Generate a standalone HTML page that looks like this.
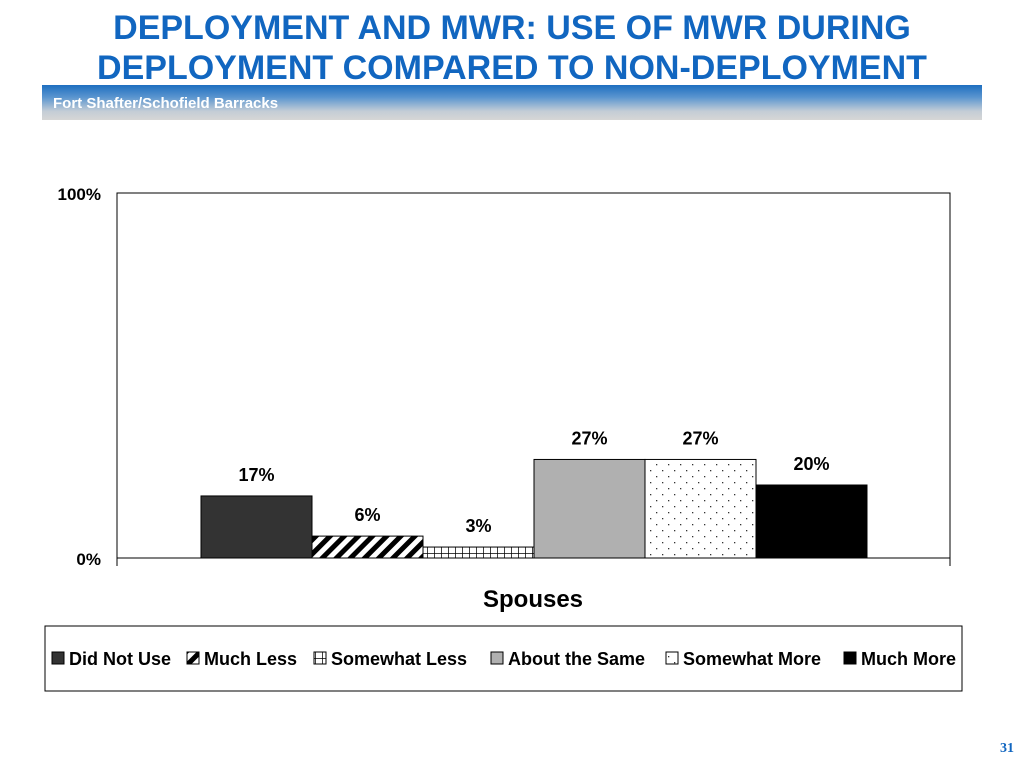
<!DOCTYPE html>
<html><head><meta charset="utf-8"><style>
body{margin:0;width:1024px;height:768px;background:#fff;overflow:hidden;font-family:"Liberation Sans",Arial,sans-serif;position:relative}
#title{position:absolute;left:0;top:8px;width:1024px;text-align:center;color:#1166c0;font-weight:bold;font-size:34px;line-height:40px}
#band{position:absolute;left:42px;top:85px;width:940px;height:35px;background:linear-gradient(#1e6fc0 0%,#5a95cf 35%,#c4cdd6 75%,#d6d6d6 100%)}
#band span{position:absolute;left:11px;top:10px;color:#fff;font-weight:bold;font-size:15px}
#pg{position:absolute;right:10px;top:741px;color:#1166c0;font-family:"Liberation Serif",serif;font-weight:bold;font-size:14px}
svg text{font-family:"Liberation Sans",Arial,sans-serif}
</style></head><body>
<div id="title">DEPLOYMENT AND MWR: USE OF MWR DURING<br>DEPLOYMENT COMPARED TO NON-DEPLOYMENT</div>
<div id="band"><span>Fort Shafter/Schofield Barracks</span></div>
<svg id="chart" width="1024" height="768" style="position:absolute;left:0;top:0">
<defs>
<pattern id="p-diag" width="10" height="10" patternUnits="userSpaceOnUse" patternTransform="rotate(45)"><rect width="10" height="10" fill="#fff"/><rect width="5" height="10" fill="#000"/></pattern>
<pattern id="p-grid" width="7" height="7" patternUnits="userSpaceOnUse"><rect width="7" height="7" fill="#fff"/><path d="M0 0H7M0 0V7" stroke="#000" stroke-width="1.5"/></pattern>
<pattern id="p-dots" width="12" height="12" patternUnits="userSpaceOnUse"><rect width="12" height="12" fill="#fff"/><rect x="2" y="2" width="1.3" height="1.3" fill="#333"/><rect x="8" y="8" width="1.3" height="1.3" fill="#333"/></pattern>
</defs>
<g id="g"></g>
</svg>
<div id="pg">31</div>
<script>
const categories=["Did Not Use","Much Less","Somewhat Less","About the Same","Somewhat More","Much More"];
const values=[17,6,3,27,27,20];
const yTicks=[0,100];
const fills=["#333333","url(#p-diag)","url(#p-grid)","#b0b0b0","url(#p-dots)","#000000"];
const NS="http://www.w3.org/2000/svg";
const g=document.getElementById('g');
const X0=117,X1=950,Y0=558,Y1=193,bx0=201,bw=111;
function y(v){return Y0-(v/100)*(Y0-Y1);}
function xb(i){return bx0+i*bw;}
function mk(t,a,txt){const e=document.createElementNS(NS,t);for(const k in a)e.setAttribute(k,a[k]);if(txt!=null)e.textContent=txt;g.appendChild(e);return e;}
let e=mk('rect',{x:X0,y:Y1,width:X1-X0,height:Y0-Y1,fill:'#fff',stroke:'#000','stroke-width':1});


e=mk('line',{x1:X0,x2:X0,y1:Y0,y2:Y0+8,stroke:'#000'});


e=mk('line',{x1:X1,x2:X1,y1:Y0,y2:Y0+8,stroke:'#000'});


yTicks.forEach(t=>{const el=mk('text',{x:101,y:y(t)+7,'text-anchor':'end','font-size':17,'font-weight':'bold'},t+'%');

});
values.forEach((v,i)=>{
const r=mk('rect',{x:xb(i),y:y(v),width:bw,height:Y0-y(v),fill:fills[i],stroke:'#000','stroke-width':1});


const l=mk('text',{x:xb(i)+bw/2,y:y(v)-15,'text-anchor':'middle','font-size':18,'font-weight':'bold'},v+'%');


});
e=mk('text',{x:533,y:607,'text-anchor':'middle','font-size':24,'font-weight':'bold'},'Spouses');


e=mk('rect',{x:45,y:626,width:917,height:65,fill:'#fff',stroke:'#000'});


const lx=[52,187,314,491,666,844];
categories.forEach((c,i)=>{
const s=mk('rect',{x:lx[i],y:652,width:12,height:12,fill:fills[i],stroke:'#000'});


const t=mk('text',{x:lx[i]+17,y:665,'font-size':18,'font-weight':'bold'},c);


});
</script>
</body></html>
